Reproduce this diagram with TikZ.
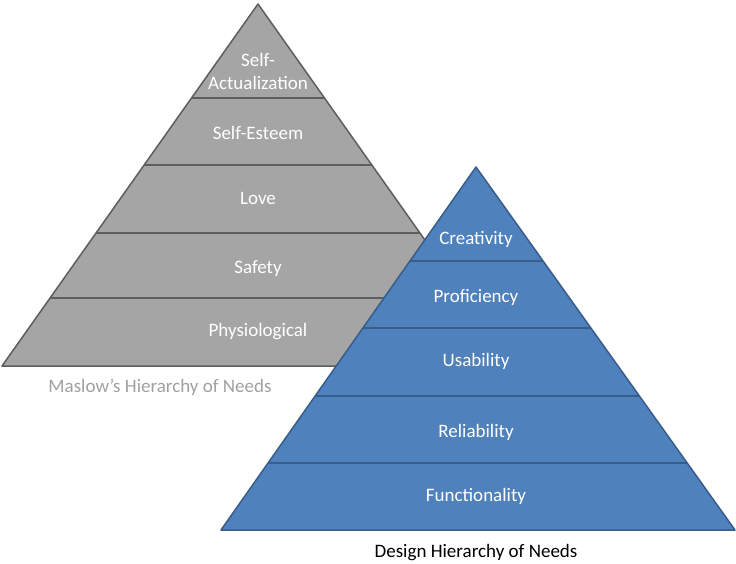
\documentclass[tikz,border=0pt]{standalone}
\usepackage{fontspec}
\setmainfont{Carlito}
\usetikzlibrary{positioning}
\definecolor{maslowfill}{HTML}{A5A5A5}
\definecolor{maslowline}{HTML}{5E5E5E}
\definecolor{designfill}{HTML}{4F81BD}
\definecolor{designline}{HTML}{385D8A}
\definecolor{captiongray}{HTML}{A0A0A0}

\begin{document}
\begin{tikzpicture}[x=1pt,y=-1pt,
  level/.style={font=\fontsize{19}{23}\selectfont,text=white,align=center,inner sep=0pt},
  caption/.style={font=\fontsize{19}{23}\selectfont,inner sep=0pt}]
  \useasboundingbox (0,0) rectangle (736,564);
  % Maslow pyramid
  \begin{scope}
    \fill[maslowfill](258,4)--(514,366)--(2,366)--cycle;
    \clip(258,4)--(514,366)--(2,366)--cycle;
    \foreach \y in {98,165,233,298}
      \draw[maslowline,line width=2pt](0,\y)--(736,\y);
  \end{scope}
  \draw[maslowline,line width=1.5pt,line join=round](258,4)--(514,366)--(2,366)--cycle;
  \node[level](actualization) at (258,71){Self-\\Actualization};
  \node[level](esteem) at (258,133){Self-Esteem};
  \node[level](love) at (258,198){Love};
  \node[level](safety) at (258,269){Safety};
  \node[level](physio) at (258,332){Physiological};
  \node[caption,text=captiongray](maslow) at (160,387){Maslow’s Hierarchy of Needs};
  % design pyramid
  \begin{scope}
    \fill[designfill](476,167)--(735,530)--(221,530)--cycle;
    \clip(476,167)--(735,530)--(221,530)--cycle;
    \foreach \y in {261,328,396,463}
      \draw[designline,line width=2pt](0,\y)--(736,\y);
  \end{scope}
  \draw[designline,line width=1.5pt,line join=round](476,167)--(735,530)--(221,530)--cycle;
  \node[level](creativity) at (476,239){Creativity};
  \node[level](proficiency) at (476,297){Proficiency};
  \node[level](usability) at (476,361){Usability};
  \node[level](reliability) at (476,432){Reliability};
  \node[level](functionality) at (476,496){Functionality};
  \node[caption,text=black](design) at (476,553){Design Hierarchy of Needs};
\end{tikzpicture}
\end{document}
